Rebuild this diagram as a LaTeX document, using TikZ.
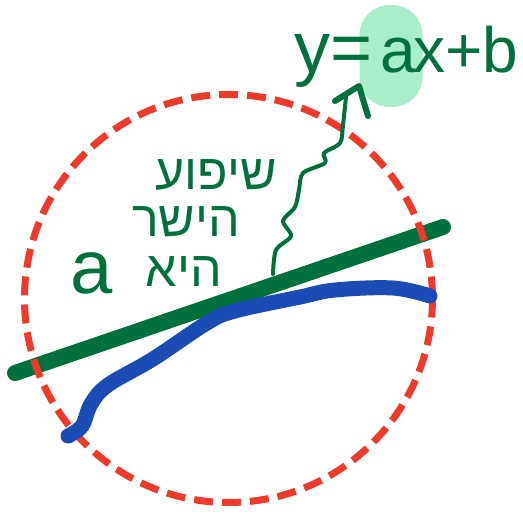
\documentclass[tikz,border=0pt]{standalone}
\usepackage{fontspec}
\setmainfont{Liberation Sans}
\newfontfamily\hebfont[Script=Hebrew]{Liberation Sans}
\TeXXeTstate=1
\usetikzlibrary{positioning}

\definecolor{cgreen}{HTML}{00703C}
\definecolor{cred}{HTML}{EE3A2B}
\definecolor{cblue}{HTML}{1B4BB5}
\definecolor{chilite}{HTML}{A8EEC8}

\begin{document}
\begin{tikzpicture}[
    x=1pt, y=-1pt,
    hilite/.style={fill=chilite, rounded corners=30pt, minimum width=63pt, minimum height=102pt, inner sep=0pt},
    formula/.style={font=\fontsize{64}{64}\selectfont, text=cgreen, inner sep=0pt},
    hebword/.style={font=\hebfont\fontsize{50}{50}\selectfont, text=cgreen, inner sep=0pt, anchor=base},
    bigline/.style={cgreen, line width=16pt, line cap=round},
    dashring/.style={cred, line width=7pt, dash pattern=on 19pt off 9pt},
    blueline/.style={cblue, line width=15pt, line cap=round, line join=round},
    wiggle/.style={cgreen, line width=4pt, line cap=round, line join=round},
]
\useasboundingbox (0,0) rectangle (523,515);

% highlight behind the slope
\node[hilite] (hl) at (391,56) {};

% the line equation
\node[formula, anchor=base] (slope) at (398,72) {a};
\node[formula, font=\fontsize{72}{72}\selectfont, anchor=base east] (lhs) at ([xshift=-7pt]slope.base west) {y=};
\node[formula, anchor=base west] (rhs) at ([xshift=-3pt]slope.base east) {x+b};

% straight line
\coordinate (lineL) at (15,373);
\coordinate (lineR) at (443,227);
\draw[bigline] (lineL) -- (lineR);

% dashed circle
\draw[dashring] (228.5,298.5) circle[radius=204];

% data curve
\draw[blueline] plot[smooth, tension=0.6] coordinates {
    (68,436) (82,426) (91,404) (108,385) (153,359) (207,323)
    (235,311) (300,297) (335,290) (393,288) (430,296)};

% wavy arrow from the line up to the slope
\coordinate (wigStart) at (273,274);
\coordinate (wigEnd) at (346,97);
\draw[wiggle] plot[smooth, tension=0.5] coordinates {
    (wigStart) (276,250) (291,236) (283,221) (295,207) (299,190)
    (303,173) (325,163) (324,153) (340,143) (343,125) (wigEnd)};
\coordinate (tipL) at (335,101);
\coordinate (tip) at (359,86);
\coordinate (tipR) at (368,116);
\draw[wiggle, line width=6pt] (tipL) -- (tip) -- (tipR);

% hebrew label
\node[hebword] (slopeword) at (216,189) {\beginR שיפוע\endR};
\node[hebword] (lineword) at (186,236) {\beginR הישר\endR};
\node[hebword] (isword) at (184,286) {\beginR היא\endR};
\node[formula, font=\fontsize{76}{76}\selectfont, anchor=base] (avar) at (92,293) {a};

\end{tikzpicture}
\end{document}
